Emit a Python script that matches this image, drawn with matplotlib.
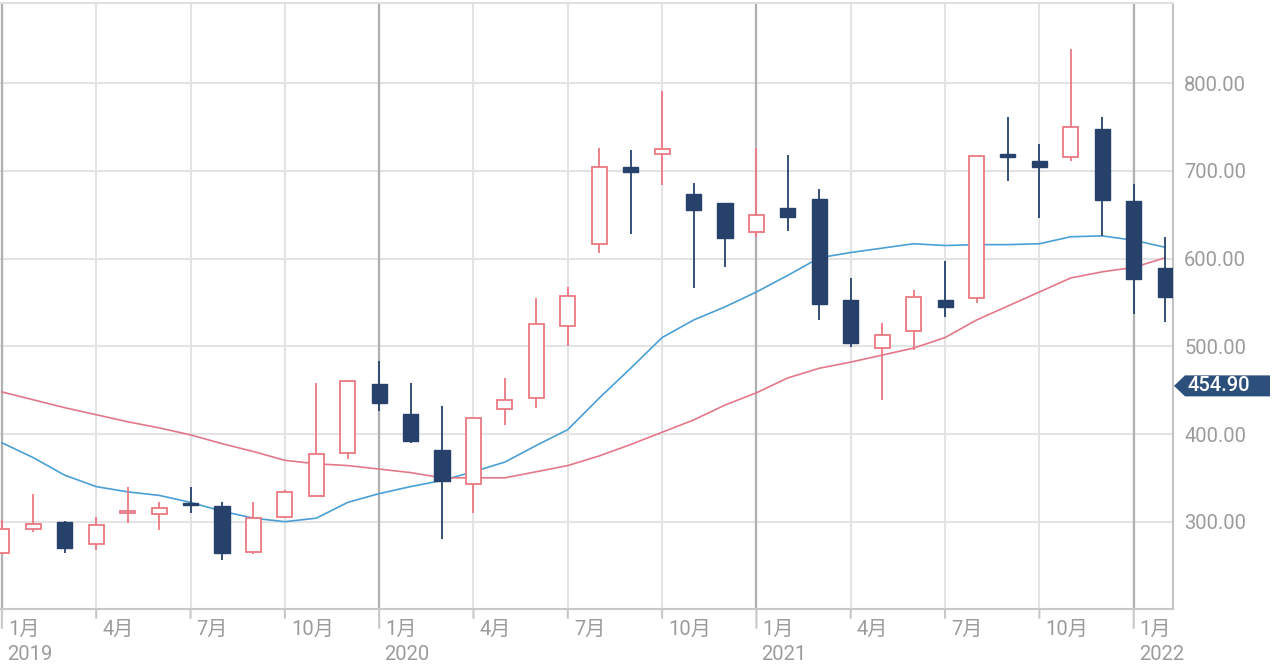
import matplotlib
matplotlib.use('Agg')
import matplotlib.pyplot as plt
from matplotlib.patches import Polygon
from matplotlib.transforms import blended_transform_factory, IdentityTransform

# ---------------- data ----------------
months = ['2019-01', '2019-02', '2019-03', '2019-04', '2019-05', '2019-06',
          '2019-07', '2019-08', '2019-09', '2019-10', '2019-11', '2019-12',
          '2020-01', '2020-02', '2020-03', '2020-04', '2020-05', '2020-06',
          '2020-07', '2020-08', '2020-09', '2020-10', '2020-11', '2020-12',
          '2021-01', '2021-02', '2021-03', '2021-04', '2021-05', '2021-06',
          '2021-07', '2021-08', '2021-09', '2021-10', '2021-11', '2021-12',
          '2022-01', '2022-02']
opens = [264, 292, 300, 275, 310, 309, 321, 318, 265, 305, 329, 378,
         457, 423, 382, 343, 428, 441, 523, 617, 704, 719, 674, 663,
         630, 658, 668, 553, 498, 517, 553, 555, 719, 711, 716, 748,
         666, 589]
highs = [302, 332, 301, 305, 339, 322, 340, 323, 323, 336, 458, 462,
         483, 458, 432, 418, 464, 555, 568, 726, 724, 791, 686, 664,
         726, 718, 680, 578, 527, 564, 597, 717, 762, 731, 839, 762,
         685, 625]
lows = [264, 288, 264, 268, 298, 290, 310, 256, 263, 304, 328, 372,
        426, 390, 280, 310, 410, 430, 500, 606, 628, 684, 566, 590,
        625, 632, 530, 499, 439, 496, 533, 549, 689, 646, 711, 626,
        537, 528]
closes = [292, 297, 270, 296, 312, 316, 319, 264, 304, 334, 377, 460,
          435, 392, 346, 418, 439, 525, 557, 704, 699, 725, 655, 624,
          650, 647, 548, 504, 513, 556, 545, 717, 716, 704, 750, 667,
          577, 556]
ma_short = [390, 373, 353, 340, 334, 330, 322, 312, 304, 300, 304, 322,
            332, 340, 347, 357, 368, 387, 405, 441, 475, 510, 530, 545,
            562, 581, 601, 607, 612, 617, 615, 616, 616, 617, 625, 626,
            621, 613]
ma_long = [448, 439, 430, 422, 414, 407, 399, 389, 380, 370, 366, 364,
           360, 356, 350, 350, 350, 357, 364, 375, 388, 402, 416, 433,
           447, 464, 475, 482, 490, 498, 510, 530, 546, 562, 578, 585,
           590, 601]
y_ticks = [300, 400, 500, 600, 700, 800]
quarter_labels = ['1月', '4月', '7月', '10月']
last_price = 454.90

# ---------------- style ----------------
UP = '#ec7880'
DOWN = '#26426b'
BLUE = '#4a9fd5'
PINK = '#e27888'
GRID = '#e3e3e3'
YEARLINE = '#b0b0b0'
LABEL = '#9b9b9b'
FS = 14.5
FONT = ['Roboto', 'Noto Sans CJK JP', 'DejaVu Sans']
plt.rcParams['font.family'] = FONT

W, H = 1279, 670
fig = plt.figure(figsize=(W / 100, H / 100), dpi=100)
ax = fig.add_axes([0, 1 - 609 / H, 1173 / W, 606 / H])

x = list(range(len(months)))
ax.set_xlim(-0.06, 37.25)
ax.set_ylim(200.4, 891.6)

# grid
for v in y_ticks:
    ax.axhline(v, color=GRID, lw=1.5, zorder=0)
for i, m in enumerate(months):
    mo = int(m[5:])
    if mo % 3 == 1:
        if mo == 1:
            ax.axvline(i, color=YEARLINE, lw=1.6, zorder=0.5)
        else:
            ax.axvline(i, color=GRID, lw=1.5, zorder=0)

# moving averages
ax.plot(x, ma_short, color=BLUE, lw=1.2, zorder=2)
ax.plot(x, ma_long, color=PINK, lw=1.2, zorder=2)

# candles
bw = 0.48
for i in x:
    o, h, l, c = opens[i], highs[i], lows[i], closes[i]
    up = c >= o
    col = UP if up else DOWN
    ax.vlines(i, l, h, color=col, lw=1.3, zorder=3)
    lo, hi = min(o, c), max(o, c)
    hgt = max(hi - lo, 1.5)
    if up:
        ax.bar(i, hgt, bottom=lo, width=bw, facecolor='white', edgecolor=col,
               linewidth=1.3, zorder=4)
    else:
        ax.bar(i, hgt, bottom=lo, width=bw, facecolor=col, edgecolor=col,
               linewidth=1.0, zorder=4)

# spines
ax.spines['left'].set_visible(False)
ax.spines['top'].set_color('#e0e0e0')
ax.spines['top'].set_linewidth(1.5)
ax.spines['right'].set_color('#c4c4c4')
ax.spines['right'].set_linewidth(1.5)
ax.spines['bottom'].set_color('#c8c8c8')
ax.spines['bottom'].set_linewidth(1.5)

# y axis on right
ax.yaxis.tick_right()
ax.set_yticks(y_ticks)
ax.set_yticklabels([f'{v:.2f}' for v in y_ticks])
ax.tick_params(axis='y', length=0, pad=8, labelsize=FS, labelcolor=LABEL)

# x axis ticks / labels (manual)
ax.set_xticks([])
trans = blended_transform_factory(ax.transData, ax.transAxes)
for i, m in enumerate(months):
    yr, mo = int(m[:4]), int(m[5:])
    if mo % 3 != 1:
        continue
    tick_len = 19 if mo == 1 else 9
    ax.annotate('', xy=(i, 0), xycoords=trans,
                xytext=(0, -tick_len), textcoords='offset pixels',
                arrowprops=dict(arrowstyle='-', color='#c8c8c8', lw=1.5,
                                shrinkA=0, shrinkB=0),
                annotation_clip=False)
    lab = quarter_labels[(mo - 1) // 3]
    ax.annotate(lab, xy=(i, 0), xycoords=trans, xytext=(6, -20),
                textcoords='offset pixels', ha='left', va='center',
                fontsize=FS, color=LABEL, annotation_clip=False)
    if mo == 1:
        ax.annotate(str(yr), xy=(i, 0), xycoords=trans, xytext=(5, -46),
                    textcoords='offset pixels', ha='left', va='center',
                    fontsize=FS, color=LABEL, annotation_clip=False)

# last price tag
fig.canvas.draw()
ty = ax.transData.transform((0, last_price))[1]
tx0 = ax.transAxes.transform((1, 0))[0] + 1
hh = 10.5
poly = Polygon([(tx0, ty), (tx0 + 11, ty + hh), (tx0 + 96, ty + hh),
                (tx0 + 96, ty - hh), (tx0 + 11, ty - hh)],
               closed=True, facecolor='#2c4f7c', edgecolor='none',
               transform=IdentityTransform())
fig.add_artist(poly)
fig.text((tx0 + 13) / W, ty / H, f'{last_price:.2f}', color='white',
         fontsize=FS, fontweight='medium', ha='left', va='center')

fig.savefig('out.png', dpi=100)
